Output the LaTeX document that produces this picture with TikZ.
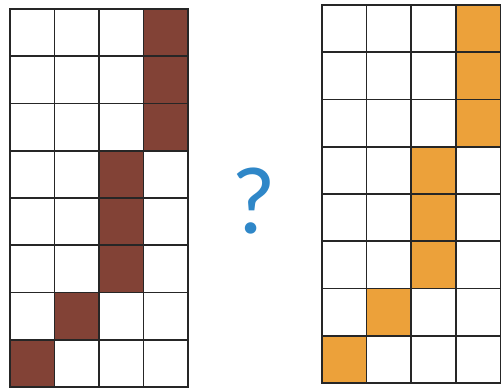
\documentclass[tikz,border=0pt]{standalone}
\usepackage{fontspec}
\newfontfamily\qfont{Carlito}
\definecolor{cellbrown} {RGB}{130, 66, 54}
\definecolor{cellorange}{RGB}{236,161, 58}
\definecolor{qblue}     {RGB}{ 47,135,200}

\begin{document}
\begin{tikzpicture}[
  x=1pt, y=-1pt,
  gridline/.style={line width=1.6pt, black!85, line cap=rect},
  qmark/.style={font=\qfont\fontsize{96}{96}\selectfont, text=qblue, inner sep=0pt}
]
  \useasboundingbox (0,0) rectangle (501,388);

  % Left board
  \begin{scope}[shift={(10,9)}, x=44.5pt, y=-47.25pt]
    \foreach \c/\r in {3/0,3/1,3/2,2/3,2/4,2/5,1/6,0/7}
      \fill[cellbrown] (\c,\r) rectangle ++(1,1);
    \foreach \c in {0,...,4} \draw[gridline] (\c,0) -- (\c,8);
    \foreach \r in {0,...,8} \draw[gridline] (0,\r) -- (4,\r);
  \end{scope}

  % Right board
  \begin{scope}[shift={(322,5)}, x=44.6pt, y=-47.25pt]
    \foreach \c/\r in {3/0,3/1,3/2,2/3,2/4,2/5,1/6,0/7}
      \fill[cellorange] (\c,\r) rectangle ++(1,1);
    \foreach \c in {0,...,4} \draw[gridline] (\c,0) -- (\c,8);
    \foreach \r in {0,...,8} \draw[gridline] (0,\r) -- (4,\r);
  \end{scope}

  % Question mark
  \node[qmark] (q) at (254,201) {?};
\end{tikzpicture}
\end{document}
